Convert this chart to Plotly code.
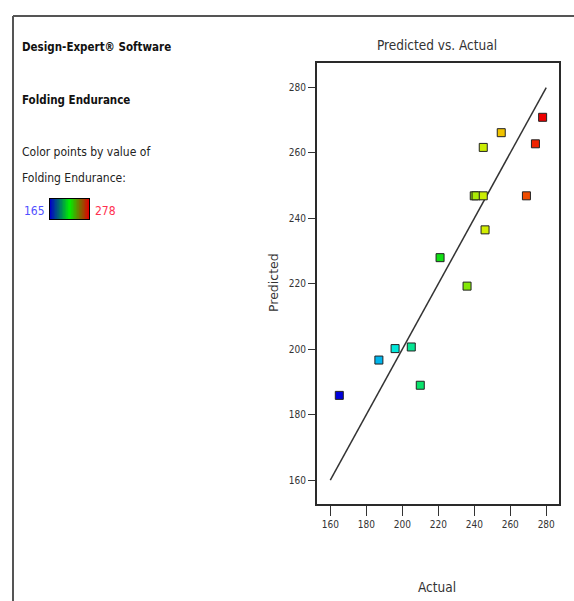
import numpy as np
import plotly.graph_objects as go

W, H = 574, 601

# Folding endurance: actual run values vs model predictions
actual = [165, 187, 196, 205, 210, 221, 236, 240, 241, 245, 245, 246, 255, 269, 274, 278]
predicted = [185.9, 196.7, 200.2, 200.7, 189.0, 228.0, 219.3, 246.9, 246.9, 246.9,
             261.7, 236.5, 266.2, 246.9, 262.8, 270.9]

# y = x reference line
ideal_line = [160, 280]

tick_vals = [160, 180, 200, 220, 240, 260, 280]
tick_text = ["160", "180", "200", "220", "240", "260", "280"]

response_min, response_max = 165, 278

NARROW = "DejaVu Sans Condensed, Liberation Sans Narrow, Arial Narrow, sans-serif"


def fx(px):
    return px / W


def fy(py):
    return 1 - py / H


point_scale = [[0.0, "#0000dc"], [0.25, "#00e8f0"], [0.5, "#10e010"],
               [0.75, "#f0f000"], [1.0, "#ee0000"]]
key_scale = [[0.0, "#0000c8"], [0.5, "#00f000"], [1.0, "#e00000"]]

fig = go.Figure()

fig.add_trace(go.Scatter(
    x=ideal_line, y=ideal_line, mode="lines",
    line=dict(color="#333333", width=1.5),
    hoverinfo="skip", showlegend=False,
))

fig.add_trace(go.Scatter(
    x=actual, y=predicted, mode="markers",
    marker=dict(symbol="square", size=8, color=actual, colorscale=point_scale,
                cmin=response_min, cmax=response_max,
                line=dict(color="#222222", width=1)),
    showlegend=False,
))

# colour key next to the response name
key_vals = np.linspace(response_min, response_max, 64)
fig.add_trace(go.Heatmap(
    z=[key_vals], colorscale=key_scale, zmin=response_min, zmax=response_max,
    showscale=False, hoverinfo="skip", xaxis="x2", yaxis="y2",
))

axis_common = dict(
    tickvals=tick_vals, ticktext=tick_text, ticks="outside", tickwidth=1,
    tickcolor="#333333", showline=True, mirror=True, linecolor="#2a2a2a",
    linewidth=2, showgrid=False, zeroline=False,
    tickfont=dict(family=NARROW, size=10, color="#333333"),
)

fig.update_layout(
    width=W, height=H,
    margin=dict(l=0, r=0, t=0, b=0),
    paper_bgcolor="white", plot_bgcolor="white",
    xaxis=dict(domain=[fx(317), fx(559)], range=[152.6, 287.1], ticklen=10,
               automargin=False, **axis_common),
    yaxis=dict(domain=[fy(504), fy(63)], range=[152.7, 287.5], ticklen=7,
               automargin=False, **axis_common),
    xaxis2=dict(domain=[fx(50), fx(89)], anchor="y2", showticklabels=False,
                ticks="", showline=True, mirror=True, linecolor="#000000",
                linewidth=1, showgrid=False, zeroline=False),
    yaxis2=dict(domain=[fy(219), fy(199)], anchor="x2", showticklabels=False,
                ticks="", showline=True, mirror=True, linecolor="#000000",
                linewidth=1, showgrid=False, zeroline=False),
    title=dict(text="Predicted vs. Actual", x=fx(437), y=fy(45),
               xanchor="center", yanchor="middle",
               font=dict(family=NARROW, size=13.5, color="#333333")),
    shapes=[
        dict(type="line", xref="paper", yref="paper", x0=fx(13), x1=1.0,
             y0=fy(16), y1=fy(16), line=dict(color="#555555", width=2)),
        dict(type="line", xref="paper", yref="paper", x0=fx(13), x1=fx(13),
             y0=fy(16), y1=0.0, line=dict(color="#555555", width=2)),
    ],
)

annotations = [
    dict(text="<b>Design-Expert® Software</b>", x=fx(20), y=fy(47), xanchor="left",
         font=dict(family=NARROW, size=11.5, color="#111111")),
    dict(text="<b>Folding Endurance</b>", x=fx(20), y=fy(100), xanchor="left",
         font=dict(family=NARROW, size=11.5, color="#111111")),
    dict(text="Color points by value of", x=fx(20), y=fy(152), xanchor="left",
         font=dict(family=NARROW, size=12, color="#222222")),
    dict(text="Folding Endurance:", x=fx(20), y=fy(178), xanchor="left",
         font=dict(family=NARROW, size=12, color="#222222")),
    dict(text=str(response_min), x=fx(22), y=fy(211), xanchor="left",
         font=dict(family=NARROW, size=12, color="#5050ff")),
    dict(text=str(response_max), x=fx(93), y=fy(211), xanchor="left",
         font=dict(family=NARROW, size=12, color="#ff3050")),
    dict(text="Actual", x=fx(437), y=fy(587), xanchor="center",
         font=dict(family=NARROW, size=13.5, color="#333333")),
    dict(text="Predicted", x=fx(273), y=fy(283), xanchor="center", textangle=-90,
         font=dict(family="DejaVu Sans", size=12.5, color="#333333")),
]
for a in annotations:
    a.update(xref="paper", yref="paper", yanchor="middle", showarrow=False)
fig.update_layout(annotations=annotations)

fig.write_html("out.html")
